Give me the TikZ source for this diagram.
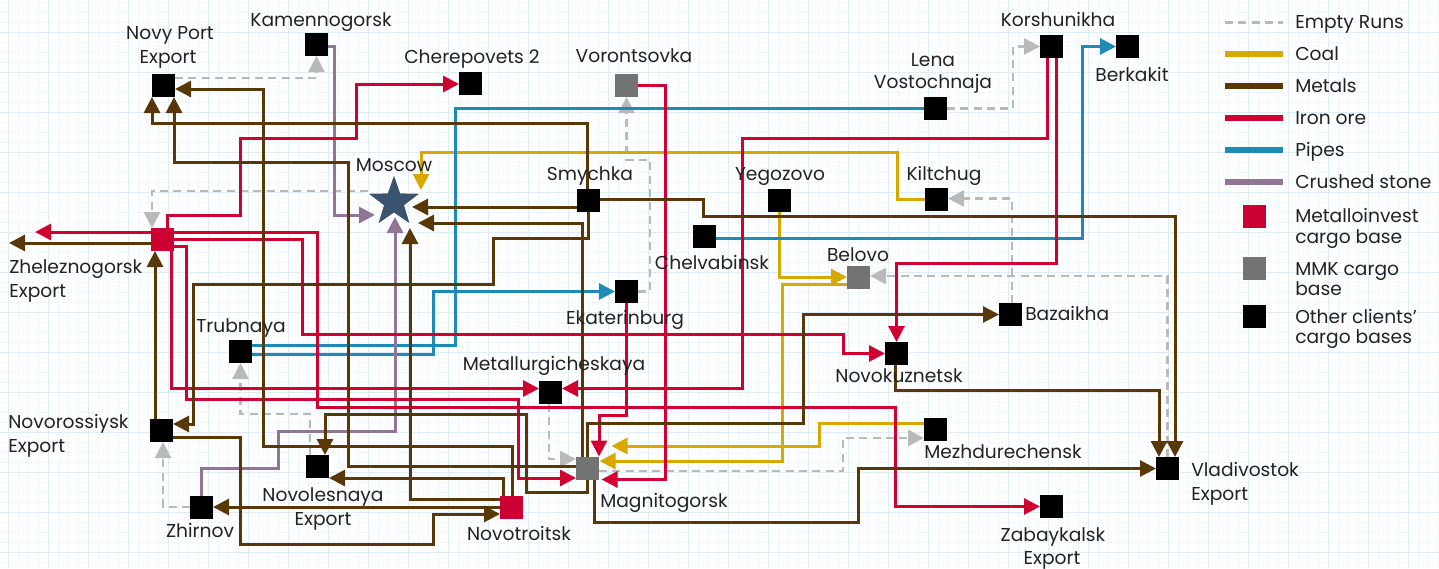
\documentclass[tikz,border=0pt]{standalone}
\usepackage{fontspec}
\setmainfont{Poppins}
\usetikzlibrary{arrows.meta,shapes.geometric,calc}
\definecolor{coalc}{RGB}{214,168,0}
\definecolor{metc}{RGB}{88,56,6}
\definecolor{ironc}{RGB}{208,0,48}
\definecolor{pipec}{RGB}{30,138,182}
\definecolor{stonec}{RGB}{144,118,148}
\definecolor{emptyc}{RGB}{185,185,185}
\definecolor{redsq}{RGB}{204,0,51}
\definecolor{graysq}{RGB}{115,115,115}
\definecolor{starc}{RGB}{58,84,112}
\definecolor{gminor}{RGB}{239,247,252}
\definecolor{gmajor}{RGB}{220,237,248}
\definecolor{txt}{RGB}{34,34,34}
\pgfdeclarelayer{gridlayer}
\pgfdeclarelayer{edgelayer}
\pgfsetlayers{gridlayer,edgelayer,main}
\begin{document}
\begin{tikzpicture}[x=0.75pt,y=-0.75pt,
  tip/.style={-{Triangle[length=12pt,width=12pt]}},
  ln/.style={line width=2.25pt},
  coal/.style={ln,draw=coalc},
  metal/.style={ln,draw=metc},
  iron/.style={ln,draw=ironc},
  pipe/.style={ln,draw=pipec},
  stone/.style={ln,draw=stonec},
  empty/.style={line width=1.9pt,draw=emptyc,dash pattern=on 6pt off 4pt},
  sqk/.style={draw=none,fill=black,minimum size=17.25pt,inner sep=0pt},
  sqr/.style={sqk,fill=redsq},
  sqg/.style={sqk,fill=graysq},
  lbl/.style={font=\fontsize{14}{16}\selectfont,text=txt,inner sep=0pt,anchor=base},
  lbll/.style={lbl,anchor=base west},
  legline/.style={line width=5pt}
]
\useasboundingbox (0,0) rectangle (1439,568);
\begin{pgfonlayer}{gridlayer}
\fill[white] (0,0) rectangle (1439,568);
\foreach \x in {8,18,...,1438} \draw[gminor,line width=0.5pt] (\x,0) -- (\x,568);
\foreach \y in {2,12,...,562} \draw[gminor,line width=0.5pt] (0,\y) -- (1439,\y);
\foreach \x in {8,48,...,1428} \draw[gmajor,line width=0.6pt] (\x,0) -- (\x,568);
\foreach \y in {32,72,...,552} \draw[gmajor,line width=0.6pt] (0,\y) -- (1439,\y);
\end{pgfonlayer}

% cargo bases
\node[sqk] (np) at (163.5,85.5) {};
\node[sqk] (kam) at (316.5,44.5) {};
\node[sqk] (che) at (470.5,83.5) {};
\node[sqg] (vor) at (626.5,85.5) {};
\node[sqk] (lena) at (935.5,108.5) {};
\node[sqk] (kor) at (1051.5,46.5) {};
\node[sqk] (ber) at (1127.5,46.5) {};
\node[star,star points=5,star point ratio=2.5,minimum size=43pt,inner sep=0pt,fill=starc,draw=white,line width=1pt] (mos) at (394,202) {};
\node[sqk] (smy) at (588.5,200.5) {};
\node[sqk] (yeg) at (779.5,200.5) {};
\node[sqk] (kil) at (936.5,199) {};
\node[sqk] (chel) at (704.5,236.5) {};
\node[sqg] (bel) at (858.5,277.5) {};
\node[sqk] (eka) at (626.5,291.5) {};
\node[sqr] (zhe) at (162.5,239.5) {};
\node[sqk] (tru) at (240.5,351.5) {};
\node[sqk] (baz) at (1010.5,314.5) {};
\node[sqk] (nkz) at (896.5,353.5) {};
\node[sqk] (met) at (550.5,392.5) {};
\node[sqk] (nor) at (161.5,430.5) {};
\node[sqg] (mag) at (587.5,468.5) {};
\node[sqk] (mez) at (935.5,429.5) {};
\node[sqk] (vla) at (1167.5,468.5) {};
\node[sqk] (zab) at (1051.5,506.5) {};
\node[sqk] (nol) at (317.5,466.5) {};
\node[sqk] (zhi) at (201.5,507) {};
\node[sqr] (nov) at (511.5,507) {};
\coordinate (zheexp) at (35,232);
\coordinate (zheexpm) at (9,243);

% labels
\node[lbl] (lnp1) at (170,39) {Novy Port};
\node[lbl] (lnp2) at (168,63) {Export};
\node[lbl] (lkam) at (321,26) {Kamennogorsk};
\node[lbl] (lche) at (472,63) {Cherepovets 2};
\node[lbl] (lvor) at (634,62) {Vorontsovka};
\node[lbl] (llen1) at (933,66) {Lena};
\node[lbl] (llen2) at (933,88) {Vostochnaja};
\node[lbl] (lkor) at (1058,26) {Korshunikha};
\node[lbl] (lber) at (1132,81) {Berkakit};
\node[lbl] (lmos) at (394,171) {Moscow};
\node[lbl] (lsmy) at (590,180) {Smychka};
\node[lbl] (lyeg) at (780,180) {Yegozovo};
\node[lbl] (lkil) at (944,180) {Kiltchug};
\node[lbl] (lchel) at (712,269) {Chelvabinsk};
\node[lbl] (lbel) at (858,261) {Belovo};
\node[lbl] (leka) at (625,324) {Ekaterinburg};
\node[lbll] (lzhe1) at (9,273) {Zheleznogorsk};
\node[lbll] (lzhe2) at (9,297) {Export};
\node[lbl] (ltru) at (241,332) {Trubnaya};
\node[lbll] (lbaz) at (1025,320) {Bazaikha};
\node[lbl] (lnkz) at (899,382) {Novokuznetsk};
\node[lbl] (lmet) at (554,370) {Metallurgicheskaya};
\node[lbll] (lnor1) at (8,428) {Novorossiysk};
\node[lbll] (lnor2) at (8,452) {Export};
\node[lbll] (lmag) at (600,507) {Magnitogorsk};
\node[lbll] (lmez) at (924,458) {Mezhdurechensk};
\node[lbll] (lvla1) at (1191,476) {Vladivostok};
\node[lbll] (lvla2) at (1191,500) {Export};
\node[lbl] (lzab1) at (1053,541) {Zabaykalsk};
\node[lbl] (lzab2) at (1052,564) {Export};
\node[lbl] (lnol1) at (323,501) {Novolesnaya};
\node[lbl] (lnol2) at (323,525) {Export};
\node[lbl] (lzhi) at (200,537) {Zhirnov};
\node[lbl] (lnov) at (519,540) {Novotroitsk};

\begin{pgfonlayer}{edgelayer}
% empty runs
\draw[empty,tip] ($(np)+(11.5,-7.5)$) -- (316.5,78) -- ($(kam)+(0,11.5)$);
\draw[empty,tip] ($(lena)+(11.5,0)$) -- (1013,108.5) -- (1013,46.5) -- ($(kor)+(-11.5,0)$);
\draw[empty,tip] ($(baz)+(1.5,-11.5)$) -- (1012,198.5) -- ($(kil)+(11.5,-0.5)$);
\draw[empty,tip] ($(vla)+(0,-11.5)$) -- (1167.5,276) -- ($(bel)+(11.5,-1.5)$);
\draw[empty,tip] ($(mag)+(11.5,2.5)$) -- (843,471) -- (843,438) -- ($(mez)+(-11.5,8.5)$);
\draw[empty,tip] ($(met)+(-1.5,11.5)$) -- (549,459) -- ($(mag)+(-11.5,-9.5)$);
\draw[empty,tip] ($(eka)+(11.5,0)$) -- (650,291.5) -- (650,160) -- (626.5,160) -- ($(vor)+(0,11.5)$);
\draw[empty,tip] ($(mos)+(-26,-11)$) -- (152,191) -- ($(zhe)+(-10.5,-11.5)$);
\draw[empty,tip] ($(nol)+(-7.5,-11.5)$) -- (310,414) -- (240.5,414) -- ($(tru)+(0,11.5)$);
\draw[empty,tip] ($(zhi)+(-11.5,0)$) -- (163,507) -- ($(nor)+(1.5,11.5)$);
% coal
\draw[coal,tip] ($(kil)+(-11.5,0)$) -- (897,199) -- (897,152) -- (421,152) -- ($(mos)+(27,-12)$);
\draw[coal,tip] ($(yeg)+(0,11.5)$) -- (779.5,277) -- ($(bel)+(-11.5,-0.5)$);
\draw[coal,tip] ($(bel)+(-11.5,6.5)$) -- (782.5,284) -- (782.5,461) -- ($(mag)+(12,-7.5)$);
\draw[coal,tip] ($(mez)+(-11.5,-6)$) -- (819,423.5) -- (819,446) -- ($(mag)+(24,-22.5)$);
% pipes
\draw[pipe] ($(lena)+(-11.5,0)$) -- (455,108.5) -- (455,345) -- ($(tru)+(11.5,-6.5)$);
\draw[pipe,tip] ($(tru)+(11.5,2.5)$) -- (433,354) -- (433,291.5) -- ($(eka)+(-11.5,0)$);
\draw[pipe,tip] ($(chel)+(11.5,2)$) -- (1082,238.5) -- (1082,46.5) -- ($(ber)+(-11.5,0)$);
% crushed stone
\draw[stone,tip] ($(kam)+(11.5,2)$) -- (334,46.5) -- (334,215) -- ($(mos)+(-19,13)$);
\draw[stone,tip] ($(zhi)+(0,-11.5)$) -- (201.5,468) -- (278,468) -- (278,431) -- (395,431) -- ($(mos)+(1,15)$);
% iron ore
\draw[iron,tip] ($(zhe)+(-11.5,-7.5)$) -- (zheexp);
\draw[iron,tip] ($(zhe)+(4.5,-11.5)$) -- (167,215) -- (240,215) -- (240,138) -- (356,138) -- (356,84) -- ($(che)+(-11.5,0.5)$);
\draw[iron,tip] ($(zhe)+(11.5,-7.5)$) -- (317,232) -- (317,407) -- (895,407) -- (895,506.5) -- ($(zab)+(-11.5,0)$);
\draw[iron,tip] ($(zhe)+(11.5,0)$) -- (302,239.5) -- (302,334) -- (843,334) -- (843,353.5) -- ($(nkz)+(-11.5,0)$);
\draw[iron,tip] ($(zhe)+(8.5,11.5)$) -- (171,388.5) -- ($(met)+(-11.5,-4)$);
\draw[iron,tip] ($(zhe)+(11.5,7)$) -- (186,246.5) -- (186,399) -- (518,399) -- (518,478) -- ($(mag)+(-11.5,9.5)$);
\draw[iron,tip] ($(vor)+(11.5,0)$) -- (665,85.5) -- (665,479.5) -- ($(mag)+(14,11)$);
\draw[iron,tip] ($(eka)+(0,11.5)$) -- (626.5,415) -- (599,415) -- ($(mag)+(11.5,-12)$);
\draw[iron,tip] ($(kor)+(-4.5,11.5)$) -- (1047,138) -- (742,138) -- (742,388.5) -- ($(met)+(11.5,-4)$);
\draw[iron,tip] ($(kor)+(4.5,11.5)$) -- (1056,263) -- (896.5,263) -- ($(nkz)+(0,-11.5)$);
% metals
\draw[metal,tip] ($(smy)+(-1.5,-11.5)$) -- (587,123.5) -- (152,123.5) -- ($(np)+(-11.5,11.5)$);
\draw[metal,tip] ($(mag)+(-11.5,-2.5)$) -- (348,466) -- (348,162) -- (174,162) -- ($(np)+(10.5,11.5)$);
\draw[metal,tip] ($(nov)+(0.5,-11.5)$) -- (512,446) -- (263,446) -- (263,89) -- ($(np)+(11.5,3.5)$);
\draw[metal,tip] ($(smy)+(-11.5,6.5)$) -- ($(mos)+(18,5)$);
\draw[metal,tip] ($(mag)+(-5.5,-11.5)$) -- (582,223) -- ($(mos)+(24,21)$);
\draw[metal,tip] ($(nov)+(-11.5,-8)$) -- (410,499) -- ($(mos)+(16,26)$);
\draw[metal,tip] ($(smy)+(11.5,-1.5)$) -- (703,199) -- (703,216) -- (1175,216) -- ($(vla)+(7.5,-11.5)$);
\draw[metal,tip] ($(nkz)+(-1.5,11.5)$) -- (895,390) -- (1159,390) -- ($(vla)+(-8.5,-11.5)$);
\draw[metal,tip] ($(mag)+(6.5,11.5)$) -- (594,522) -- (858,522) -- (858,468.5) -- ($(vla)+(-11.5,0)$);
\draw[metal,tip] ($(mag)+(-0.5,-11.5)$) -- (587,423) -- (803,423) -- (803,314.5) -- ($(baz)+(-11.5,0)$);
\draw[metal,tip] ($(mag)+(-0.5,11.5)$) -- (587,492) -- (526,492) -- (526,414) -- (325,414) -- ($(nol)+(7.5,-11.5)$);
\draw[metal,tip] ($(nov)+(-8.5,-11.5)$) -- (503,478) -- ($(nol)+(11.5,11.5)$);
\draw[metal,tip] ($(nov)+(-11.5,0)$) -- ($(zhi)+(11.5,0)$);
\draw[metal,tip] ($(nor)+(11.5,6.5)$) -- (240,437) -- (240,544) -- (433,544) -- (433,514) -- ($(nov)+(-11.5,7)$);
\draw[metal,tip] ($(smy)+(-0.5,11.5)$) -- (588,238) -- (493,238) -- (493,284.5) -- (193,284.5) -- (193,424) -- ($(nor)+(11.5,-6.5)$);
\draw[metal,tip] ($(nor)+(-6.5,-11.5)$) -- ($(zhe)+(-7.5,11.5)$);
\draw[metal,tip] ($(zhe)+(-11.5,3.5)$) -- (zheexpm);
\end{pgfonlayer}

% legend
\draw[emptyc,line width=2.25pt,dash pattern=on 6pt off 4pt] (1225,22) -- (1283,22);
\draw[coalc,legline] (1225,54) -- (1283,54);
\draw[metc,legline] (1225,86) -- (1283,86);
\draw[ironc,legline] (1225,118) -- (1283,118);
\draw[pipec,legline] (1225,150) -- (1283,150);
\draw[stonec,legline] (1225,182) -- (1283,182);
\node[lbll] (lg1) at (1295,28) {Empty Runs};
\node[lbll] (lg2) at (1295,60) {Coal};
\node[lbll] (lg3) at (1295,92) {Metals};
\node[lbll] (lg4) at (1295,124) {Iron ore};
\node[lbll] (lg5) at (1295,156) {Pipes};
\node[lbll] (lg6) at (1295,188) {Crushed stone};
\node[sqr] (lgsq1) at (1254.5,216.5) {};
\node[sqg] (lgsq2) at (1254.5,268.5) {};
\node[sqk] (lgsq3) at (1254.5,316.5) {};
\node[lbll] (lg7) at (1295,222) {Metalloinvest};
\node[lbll] (lg8) at (1295,243) {cargo base};
\node[lbll] (lg9) at (1295,275) {MMK cargo};
\node[lbll] (lg10) at (1295,295) {base};
\node[lbll] (lg11) at (1295,323) {Other clients'};
\node[lbll] (lg12) at (1295,343) {cargo bases};
\end{tikzpicture}
\end{document}
